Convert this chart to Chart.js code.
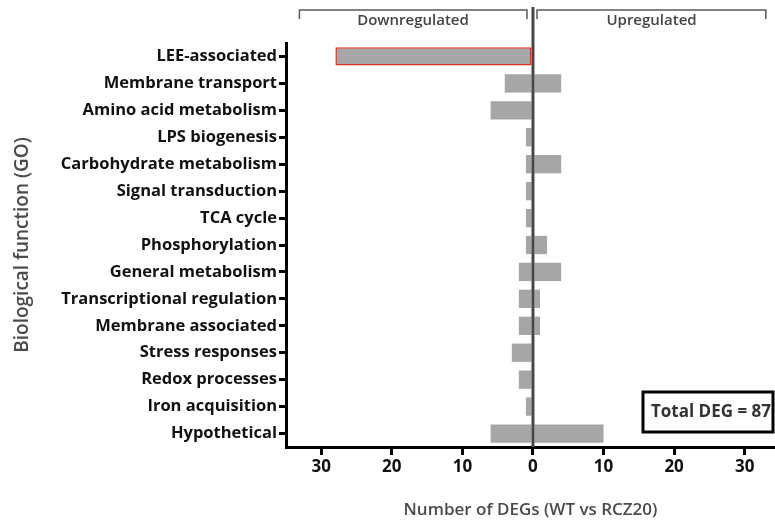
<!DOCTYPE html>
<html>
<head>
<meta charset="utf-8">
<script src="https://cdn.jsdelivr.net/npm/chart.js@4"></script>
<style>
  html, body { margin: 0; padding: 0; background: #fff; }
  #wrap { width: 775px; height: 522px; position: relative; }
</style>
</head>
<body>
<div id="wrap"><canvas id="graph"></canvas></div>
<script>
// categories (top to bottom)
const categories = [
  "LEE-associated", "Membrane transport", "Amino acid metabolism", "LPS biogenesis",
  "Carbohydrate metabolism", "Signal transduction", "TCA cycle", "Phosphorylation",
  "General metabolism", "Transcriptional regulation", "Membrane associated",
  "Stress responses", "Redox processes", "Iron acquisition", "Hypothetical"
];
// number of DEGs, downregulated drawn as negative
const downValues = [-28, -4, -6, -1, -1, -1, -1, -1, -2, -2, -2, -3, -2, -1, -6];
const upValues = [0, 4, 0, 0, 4, 0, 0, 2, 4, 1, 1, 0, 0, 0, 10];
const xTicks = [-30, -20, -10, 0, 10, 20, 30];
const totalText = "Total DEG = 87";

const barGray = "#a6a6a6";
const fontFam = "'Open Sans', sans-serif";

// zero line, brackets and total box
const decor = {
  id: "decor",
  afterDatasetsDraw(chart) {
    const ctx = chart.ctx;
    const x = chart.scales.x;
    const area = chart.chartArea;
    ctx.save();
    // zero line
    ctx.strokeStyle = "#484848";
    ctx.lineWidth = 3;
    ctx.beginPath();
    ctx.moveTo(x.getPixelForValue(0), 7);
    ctx.lineTo(x.getPixelForValue(0), area.bottom);
    ctx.stroke();

    // brackets
    ctx.strokeStyle = "#595959";
    ctx.lineWidth = 1.5;
    const bracket = (a, b) => {
      const x1 = x.getPixelForValue(a), x2 = x.getPixelForValue(b);
      ctx.beginPath();
      ctx.moveTo(x1, 19);
      ctx.lineTo(x1, 10);
      ctx.lineTo(x2, 10);
      ctx.lineTo(x2, 19);
      ctx.stroke();
    };
    bracket(-33.1, -0.85);
    bracket(0.57, 33.0);

    ctx.fillStyle = "#444";
    ctx.font = "600 15px " + fontFam;
    ctx.textAlign = "center";
    ctx.textBaseline = "middle";
    ctx.fillText("Downregulated", x.getPixelForValue(-17), 21);
    ctx.fillText("Upregulated", x.getPixelForValue(16.8), 21);

    // total box
    ctx.strokeStyle = "#000";
    ctx.lineWidth = 3;
    ctx.strokeRect(643, 392, 130, 40);
    ctx.fillStyle = "#333";
    ctx.font = "bold 17px " + fontFam;
    ctx.textAlign = "left";
    ctx.fillText(totalText, 651, 412);
    ctx.restore();
  }
};

const ctx = document.getElementById("graph").getContext("2d");
const myChart = new Chart(ctx, {
  type: "bar",
  data: {
    labels: categories,
    datasets: [
      {
        data: downValues,
        backgroundColor: barGray,
        borderColor: categories.map((c, i) => (i === 0 ? "#e0301e" : barGray)),
        borderWidth: categories.map((c, i) => (i === 0 ? 1.5 : 0)),
        borderSkipped: false,
        barPercentage: 0.68,
        categoryPercentage: 1,
      },
      {
        data: upValues,
        backgroundColor: barGray,
        borderWidth: 0,
        barPercentage: 0.68,
        categoryPercentage: 1,
      },
    ],
  },
  options: {
    indexAxis: "y",
    responsive: true,
    maintainAspectRatio: false,
    animation: false,
    layout: { padding: { top: 43, right: 0, left: 0, bottom: 0 } },
    plugins: {
      legend: { display: false },
      tooltip: { enabled: false },
    },
    scales: {
      x: {
        stacked: true,
        min: -35,
        max: 34.3,
        afterBuildTicks: (s) => {
          s.ticks = xTicks.map((v) => ({ value: v }));
        },
        border: { color: "#000", width: 3 },
        grid: { drawOnChartArea: false, drawTicks: true, tickLength: 8, tickColor: "#000", lineWidth: 3 },
        ticks: {
          callback: (v) => Math.abs(v),
          font: { family: fontFam, size: 17, weight: "bold" },
          color: "#111",
          padding: 2,
          maxRotation: 0,
        },
        title: {
          display: true,
          text: "Number of DEGs (WT vs RCZ20)",
          font: { family: fontFam, size: 17, weight: "600" },
          color: "#4a4a4a",
          padding: { top: 0, bottom: 2 },
        },
        afterFit: (s) => {
          s.height = 75;
        },
      },
      y: {
        stacked: true,
        offset: true,
        border: { color: "#000", width: 3 },
        grid: { offset: false, drawOnChartArea: false, drawTicks: true, tickLength: 7, tickColor: "#000", lineWidth: 3 },
        ticks: {
          font: { family: fontFam, size: 16.5, weight: "bold" },
          color: "#111",
          padding: 2,
          autoSkip: false,
        },
        title: {
          display: true,
          text: "Biological function (GO)",
          font: { family: fontFam, size: 19, weight: "600" },
          color: "#4a4a4a",
          padding: { top: 11, bottom: 0 },
        },
        afterFit: (s) => {
          s.width = 286;
        },
      },
    },
  },
  plugins: [decor],
});
</script>
</body>
</html>
